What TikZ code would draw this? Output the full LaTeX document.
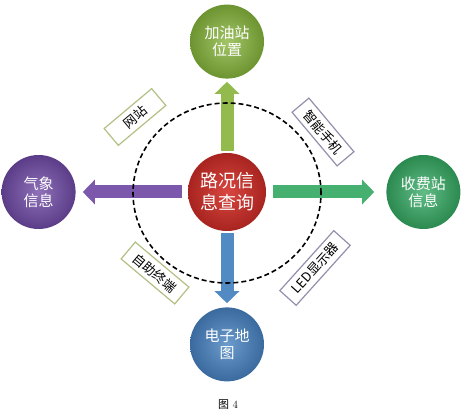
\documentclass[tikz,border=0pt]{standalone}
\usepackage{fontspec}
\newfontfamily\cjk{Noto Sans CJK SC}
\usetikzlibrary{arrows.meta}
\usetikzlibrary{positioning}
\usetikzlibrary{shapes.geometric}

\definecolor{queryred}{HTML}{D8473F}
\definecolor{queryredd}{HTML}{A82420}
\definecolor{fuelgreen}{HTML}{92BA4C}
\definecolor{fuelgreend}{HTML}{6C9430}
\definecolor{weatherpurple}{HTML}{7B58AC}
\definecolor{weatherpurpled}{HTML}{5A3C88}
\definecolor{tollgreen}{HTML}{45B070}
\definecolor{tollgreend}{HTML}{2B8A50}
\definecolor{mapblue}{HTML}{528AC4}
\definecolor{mapblued}{HTML}{3A6A9E}
\definecolor{olivebox}{HTML}{B2C084}
\definecolor{greybox}{HTML}{9290AC}

\begin{document}
\begin{tikzpicture}[
    x=1pt, y=-1pt,
    hub/.style={
        circle, minimum size=78pt, inner sep=0pt,
        font=\cjk\fontsize{18}{22}\selectfont,
        text=white, align=center
    },
    leaf/.style={
        circle, minimum size=74pt, inner sep=0pt,
        font=\cjk\fontsize{15}{17}\selectfont,
        text=white, align=center
    },
    chanbox/.style={
        draw, fill=white, line width=1.2pt,
        minimum width=62pt, minimum height=22pt,
        inner xsep=9pt, inner ysep=0pt,
        font=\cjk\fontsize{13}{13}\selectfont
    },
    bar/.style={
        line width=13pt,
        -{Triangle[width=24pt,length=12pt]}
    }
]
\useasboundingbox (0,0) rectangle (469,419);

\node[hub, inner color=queryred, outer color=queryredd] (query) at (227,192) {路况信\\息查询};
\node[leaf, inner color=fuelgreen!85!white, outer color=fuelgreend, above=74pt of query] (fuel) {加油站\\位置};
\node[leaf, inner color=weatherpurple!85!white, outer color=weatherpurpled, left=112pt of query] (weather) {气象\\信息};
\node[leaf, inner color=tollgreen!85!white, outer color=tollgreend, right=120pt of query] (toll) {收费站\\信息};
\node[leaf, inner color=mapblue!85!white, outer color=mapblued, below=76pt of query] (emap) {电子地\\图};

\draw[bar, draw=fuelgreen, fill=fuelgreen, shorten <=2pt, shorten >=3pt] (query) -- (fuel);
\draw[bar, draw=weatherpurple, fill=weatherpurple, shorten <=6pt, shorten >=7pt] (query) -- (weather);
\draw[bar, draw=tollgreen, fill=tollgreen, shorten <=7pt, shorten >=12pt] (query) -- (toll);
\draw[bar, draw=mapblue, fill=mapblue, shorten <=2pt, shorten >=4pt] (query) -- (emap);

\node[draw, dashed, ellipse, line width=1.6pt, dash pattern=on 5pt off 3pt,
      minimum width=188pt, minimum height=180pt] (ring) at (227,193) {};

\node[chanbox, draw=olivebox, rotate=40] (web) at (135,117) {网站};
\node[chanbox, draw=greybox, rotate=-50] (phone) at (323,132) {智能手机};
\node[chanbox, draw=olivebox, rotate=-40] (kiosk) at (155,273) {自助终端};
\node[chanbox, draw=greybox, rotate=48] (led) at (315,268) {LED显示器};

\node[font=\fontsize{11}{13}\selectfont] (caption) at (228,405) {{\cjk 图} 4};
\end{tikzpicture}
\end{document}
